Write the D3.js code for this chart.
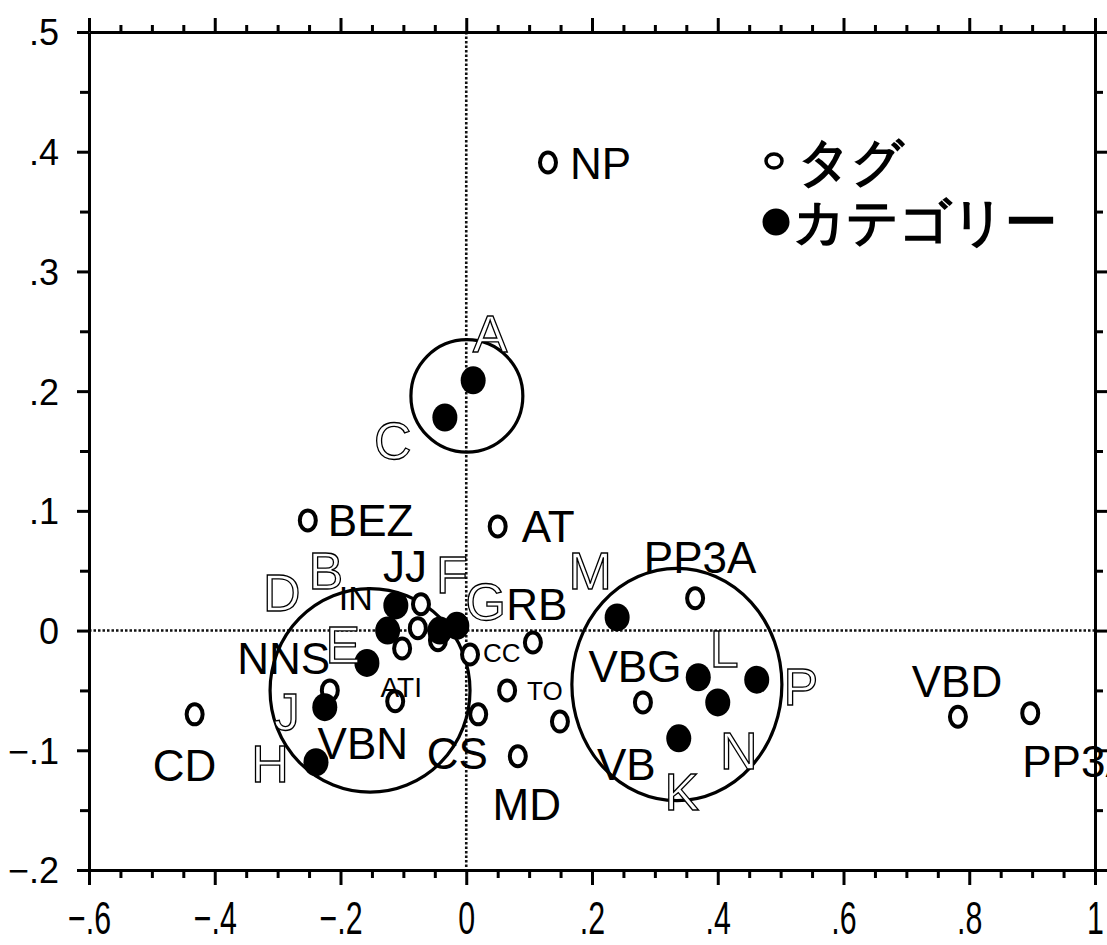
<!DOCTYPE html>
<html>
<head>
<meta charset="utf-8">
<script src="https://cdn.jsdelivr.net/npm/d3@7"></script>
<style>
  html, body { margin: 0; padding: 0; background: #fff; }
  svg { display: block; }
  text { font-family: "Liberation Sans", Arial, sans-serif; }
</style>
</head>
<body>
<svg id="chart" width="1107" height="945"></svg>
<script>
// ---- data -------------------------------------------------------------
// tags (open markers)
const tagLabels = ["NP", "BEZ", "AT", "PP3A", "VBD", "PP3A", "CD", "VBG", "VB", "MD",
                   "CS", "TO", "CC", "RB", "JJ", "IN", "NNS", "ATI", "VBN", ""];
const tagX = [0.130, -0.252, 0.050, 0.364, 0.782, 0.897, -0.432, 0.281, 0.149, 0.082,
              0.019, 0.065, 0.006, 0.106, -0.072, -0.077, -0.102, -0.113, -0.217, -0.045];
const tagY = [0.391, 0.092, 0.087, 0.027, -0.072, -0.069, -0.070, -0.060, -0.076, -0.105,
              -0.070, -0.050, -0.020, -0.010, 0.022, 0.002, -0.015, -0.059, -0.050, -0.008];

// categories (filled markers)
const catLabels = ["A", "C", "B", "D", "F", "G", "E", "J", "H", "M", "L", "P", "N", "K"];
const catX = [0.011, -0.034, -0.112, -0.125, -0.042, -0.015, -0.158, -0.225, -0.239,
              0.240, 0.369, 0.462, 0.400, 0.338];
const catY = [0.209, 0.178, 0.021, 0.000, 0.000, 0.004, -0.027, -0.064, -0.110,
              0.011, -0.039, -0.041, -0.060, -0.090];

// cluster outlines (centre and radii in data units)
const clusterCX = [0.001, -0.153, 0.335];
const clusterCY = [0.196, -0.050, -0.045];
const clusterRX = [0.089, 0.159, 0.167];
const clusterRY = [0.047, 0.085, 0.097];

// axis ticks
const xTickLabels = [-0.6, -0.4, -0.2, 0, 0.2, 0.4, 0.6, 0.8, 1];
const yTickLabels = [-0.2, -0.1, 0, 0.1, 0.2, 0.3, 0.4, 0.5];

// legend entries
const legendLabels = ["タグ", "カテゴリー"];

// ---- label placement (pixel offsets from the marker) ---------------------
// [dx, dy, anchor, font size]
const tagLabelPos = [
  [22, 17, "start", 44], [20, 16, "start", 44], [24, 16, "start", 44],
  [5, -25, "middle", 44], [-1, -20, "middle", 44], [-8, 64, "start", 44],
  [-10, 67, "middle", 44], [-8, -20, "middle", 44], [37, 58, "start", 44],
  [9, 64, "middle", 44], [-21, 55, "middle", 44], [20, 10, "start", 26],
  [13, 7, "start", 26], [4, -23, "middle", 44], [-16, -22, "middle", 44],
  [-62, -18, "middle", 34], [-72, 25, "end", 44], [6, -4, "middle", 28],
  [33, 69, "middle", 44], [0, 0, "middle", 0]
];
const catLabelPos = [
  [17, -28], [-52, 42], [-70, -16], [-106, -20], [12, -38], [29, -6], [-24, 0],
  [-38, 23], [-46, 20], [-27, -28], [26, -10], [44, 25], [21, 67], [3, 72]
];

// ---- scales -----------------------------------------------------------
const x = d3.scaleLinear().domain([-0.6, 1]).range([89, 1095]);
const y = d3.scaleLinear().domain([-0.2, 0.5]).range([870, 32]);

const svg = d3.select("#chart");

const fmt = d => {
  if (Math.abs(d) < 1e-9) return "0";
  if (Math.abs(d - 1) < 1e-9) return "1";
  return d3.format(".1f")(d).replace("0.", ".");
};

const near = (a, b) => Math.abs(a - b) < 1e-6;
const xMinor = d3.range(-0.6, 1.0001, 0.05).map(v => +v.toFixed(2));
const yMinor = d3.range(-0.2, 0.5001, 0.05).map(v => +v.toFixed(2));
const isXMajor = v => xTickLabels.some(t => near(t, v));
const isYMajor = v => yTickLabels.some(t => near(t, v));

// ---- zero reference lines --------------------------------------------
svg.append("line")
  .attr("x1", x(0)).attr("x2", x(0)).attr("y1", y(0.5)).attr("y2", y(-0.2))
  .attr("stroke", "#111").attr("stroke-width", 2.6).attr("stroke-dasharray", "2.5,2");
svg.append("line")
  .attr("x1", x(-0.6)).attr("x2", x(1)).attr("y1", y(0)).attr("y2", y(0))
  .attr("stroke", "#111").attr("stroke-width", 2.6).attr("stroke-dasharray", "2.5,2");

// ---- axes -------------------------------------------------------------
function styleAxis(g, isMajor, majorLen, minorLen, dir) {
  g.select(".domain").attr("stroke", "#000").attr("stroke-width", 3);
  g.selectAll(".tick line")
    .attr("stroke", "#000").attr("stroke-width", 3)
    .each(function(d) {
      const len = isMajor(d) ? majorLen : minorLen;
      const l = d3.select(this);
      if (dir === "x") l.attr("y2", len); else l.attr("x2", len);
    });
}

const gBottom = svg.append("g").attr("transform", `translate(0,${y(-0.2)})`)
  .call(d3.axisBottom(x).tickValues(xMinor).tickSizeOuter(0)
        .tickFormat(d => isXMajor(d) ? fmt(d) : ""));
styleAxis(gBottom, isXMajor, 15, 8, "x");
gBottom.selectAll(".tick text")
  .attr("y", 64).attr("dy", 0)
  .attr("font-size", 46).attr("fill", "#000")
  .attr("font-family", "Liberation Sans, Arial, sans-serif")
  .attr("transform", "scale(0.66,1)");

const gTop = svg.append("g").attr("transform", `translate(0,${y(0.5)})`)
  .call(d3.axisTop(x).tickValues(xMinor).tickSizeOuter(0).tickFormat(""));
styleAxis(gTop, isXMajor, -14, -7, "x");

const gLeft = svg.append("g").attr("transform", `translate(${x(-0.6)},0)`)
  .call(d3.axisLeft(y).tickValues(yMinor).tickSizeOuter(0)
        .tickFormat(d => isYMajor(d) ? fmt(d) : ""));
styleAxis(gLeft, isYMajor, -12, -9, "y");
gLeft.selectAll(".tick text")
  .attr("x", -30).attr("dy", "0.36em")
  .attr("font-size", 36).attr("fill", "#000")
  .attr("font-family", "Liberation Sans, Arial, sans-serif");

const gRight = svg.append("g").attr("transform", `translate(${x(1)},0)`)
  .call(d3.axisRight(y).tickValues(yMinor).tickSizeOuter(0).tickFormat(""));
styleAxis(gRight, isYMajor, 12, 8, "y");

// ---- cluster outlines -------------------------------------------------
svg.append("g").selectAll("ellipse")
  .data(clusterCX.map((cx, i) => i))
  .join("ellipse")
  .attr("cx", i => x(clusterCX[i]))
  .attr("cy", i => y(clusterCY[i]))
  .attr("rx", i => x(clusterRX[i]) - x(0))
  .attr("ry", i => y(0) - y(clusterRY[i]))
  .attr("fill", "none").attr("stroke", "#000").attr("stroke-width", 3.2);

// ---- markers ----------------------------------------------------------
const tags = tagLabels.map((name, i) => ({ name, x: tagX[i], y: tagY[i], i }));
const cats = catLabels.map((name, i) => ({ name, x: catX[i], y: catY[i], i }));

svg.append("g").selectAll("ellipse")
  .data(tags).join("ellipse")
  .attr("cx", d => x(d.x)).attr("cy", d => y(d.y))
  .attr("rx", 8).attr("ry", 10)
  .attr("fill", "#fff").attr("stroke", "#000").attr("stroke-width", 4);

svg.append("g").selectAll("ellipse")
  .data(cats).join("ellipse")
  .attr("cx", d => x(d.x)).attr("cy", d => y(d.y))
  .attr("rx", 12.5).attr("ry", 14)
  .attr("fill", "#000");

// ---- labels -----------------------------------------------------------
svg.append("g").selectAll("text")
  .data(tags.filter(d => d.name !== "")).join("text")
  .attr("x", d => x(d.x) + tagLabelPos[d.i][0])
  .attr("y", d => y(d.y) + tagLabelPos[d.i][1])
  .attr("text-anchor", d => tagLabelPos[d.i][2])
  .attr("font-size", d => tagLabelPos[d.i][3])
  .attr("fill", "#000")
  .text(d => d.name);

svg.append("g").selectAll("text")
  .data(cats).join("text")
  .attr("x", d => x(d.x) + catLabelPos[d.i][0])
  .attr("y", d => y(d.y) + catLabelPos[d.i][1])
  .attr("text-anchor", "middle")
  .attr("font-size", 52)
  .attr("fill", "#fff").attr("stroke", "#000").attr("stroke-width", 1.3)
  .text(d => d.name);

// ---- legend -----------------------------------------------------------
const legend = svg.append("g");
legend.append("ellipse").attr("cx", 774).attr("cy", 161).attr("rx", 8).attr("ry", 7)
  .attr("fill", "#fff").attr("stroke", "#000").attr("stroke-width", 3.5);
legend.append("circle").attr("cx", 776).attr("cy", 222).attr("r", 13.5).attr("fill", "#000");
legend.selectAll("text").data(legendLabels).join("text")
  .attr("x", (d, i) => i === 0 ? 798 : 793)
  .attr("y", (d, i) => i === 0 ? 180 : 240)
  .attr("font-family", "'Noto Sans CJK JP', sans-serif")
  .attr("font-weight", 700)
  .attr("font-size", 52)
  .attr("fill", "#000")
  .text(d => d);
</script>
</body>
</html>
